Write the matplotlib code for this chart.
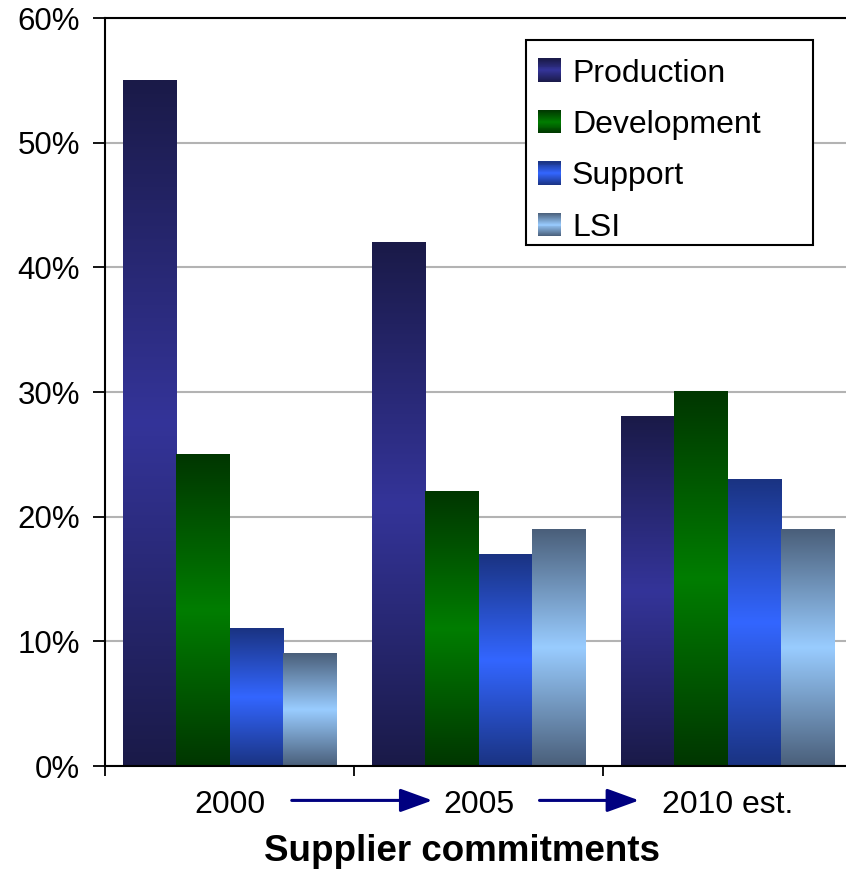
import numpy as np
import matplotlib
matplotlib.use("Agg")
import matplotlib.pyplot as plt
from matplotlib.colors import LinearSegmentedColormap
from matplotlib.patches import Rectangle
from matplotlib.legend_handler import HandlerBase
from matplotlib.ticker import FixedLocator, FuncFormatter

plt.rcParams['font.family'] = ['Liberation Sans', 'DejaVu Sans']

periods = ["2000", "2005", "2010 est."]
series = ["Production", "Development", "Support", "LSI"]
production = [55, 42, 28]
development = [25, 22, 30]
support = [11, 17, 23]
lsi = [9, 19, 19]
values = [production, development, support, lsi]

# (edge colour, centre colour) for each series' vertical gradient
shades = [("#1a1a48", "#343499"),
          ("#003600", "#007d00"),
          ("#1a3382", "#3366ff"),
          ("#4a5f7a", "#99ccff")]
cmaps = [LinearSegmentedColormap.from_list(s, [d, l, d]) for s, (d, l) in zip(series, shades)]


class GradientHandler(HandlerBase):
    def __init__(self, cmap):
        super().__init__()
        self.cmap = cmap

    def create_artists(self, legend, orig_handle, xdescent, ydescent, width, height, fontsize, trans):
        size = width
        x0 = -xdescent
        y0 = -ydescent + (height - size) / 2
        n = 24
        arts = []
        for i in range(n):
            arts.append(Rectangle((x0, y0 + size * i / n), size, size / n + 0.3,
                                  facecolor=self.cmap((i + 0.5) / n), edgecolor='none',
                                  transform=trans))
        return arts


fig = plt.figure(figsize=(8.46, 8.71), dpi=100)
ax = fig.add_axes([105 / 846, 105 / 871, 747 / 846, 748 / 871])

x = np.arange(len(periods))
w = 0.2135
grad = np.linspace(0, 1, 256).reshape(-1, 1)
handles = []
for k, (name, vals) in enumerate(zip(series, values)):
    bars = ax.bar(x + (k - 1.5) * w, vals, w, color='none', edgecolor='none', label=name, zorder=2)
    for b in bars:
        bx, by = b.get_x(), b.get_y()
        ax.imshow(grad, cmap=cmaps[k], aspect='auto', origin='lower', zorder=2,
                  extent=[bx, bx + b.get_width(), by, by + b.get_height()])
    handles.append(bars)

ax.set_xlim(-0.5, 2.5)
ax.set_ylim(0, 60)

ax.yaxis.set_major_locator(FixedLocator(range(0, 61, 10)))
ax.yaxis.set_major_formatter(FuncFormatter(lambda v, p: f"{v:.0f}%"))
ax.yaxis.grid(True, color="#b3b3b3", linewidth=1.5, zorder=0)
ax.set_axisbelow(True)
ax.tick_params(axis='y', direction='out', length=9, width=1.3, labelsize=22.5, pad=9)

ax.set_xticks(x)
ax.set_xticklabels(periods)
ax.set_xticks([-0.5, 0.5, 1.5, 2.5], minor=True)
ax.tick_params(axis='x', which='major', length=0, labelsize=23, pad=17)
ax.tick_params(axis='x', which='minor', direction='out', length=7, width=1.3)

for side in ['left', 'bottom', 'top']:
    ax.spines[side].set_linewidth(1.5)
ax.spines['right'].set_visible(False)

# arrows between the period labels
for x0, x1 in [(0.25, 0.815), (1.245, 1.645)]:
    ax.annotate("", xy=(x1, -0.046), xytext=(x0, -0.046),
                xycoords=ax.get_xaxis_transform(), textcoords=ax.get_xaxis_transform(),
                arrowprops=dict(arrowstyle='-|>,head_length=1.1,head_width=0.4',
                                color='#000080', lw=2.2, mutation_scale=18,
                                shrinkA=0, shrinkB=0),
                annotation_clip=False)

fig.text(462 / 846, 1 - 851 / 871, "Supplier commitments", ha='center', va='center',
         fontsize=26.5, fontweight='bold')

# legend box drawn separately so it can be wider than its entries
ax.add_patch(Rectangle((0.5636, 0.6965), 0.3842, 0.2741, transform=ax.transAxes,
                       facecolor='white', edgecolor='black', linewidth=1.5, zorder=4))
leg = ax.legend(handles, series, loc='upper left', bbox_to_anchor=(0.5636, 0.9612),
                borderaxespad=0, fontsize=23, frameon=False,
                labelspacing=0.67, handlelength=0.72, handleheight=0.72,
                handletextpad=0.36, borderpad=0.36,
                handler_map={h: GradientHandler(c) for h, c in zip(handles, cmaps)})
leg.set_zorder(5)

fig.savefig("out.png", dpi=100)
